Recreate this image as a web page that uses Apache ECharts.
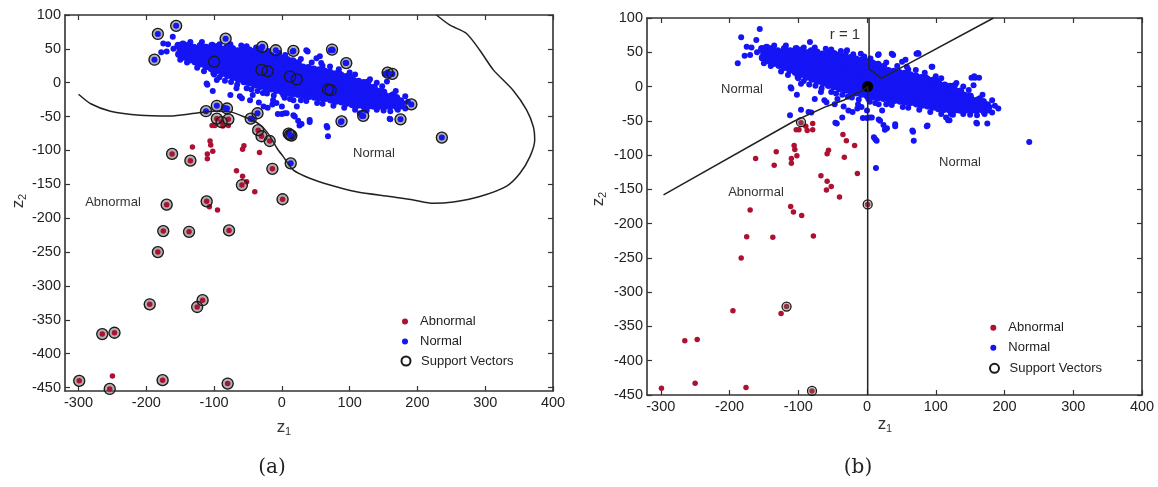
<!DOCTYPE html>
<html>
<head>
<meta charset="utf-8">
<script src="https://cdn.jsdelivr.net/npm/echarts@6/dist/echarts.min.js"></script>
<style>
html,body{margin:0;padding:0;background:#fff;}
#main{width:1158px;height:487px;}
</style>
</head>
<body>
<div id="main"></div>
<script>
// tick labels
var xTicks = [-300, -200, -100, 0, 100, 200, 300, 400];
var yTicks = [-450, -400, -350, -300, -250, -200, -150, -100, -50, 0, 50, 100];

// abnormal samples (z1, z2)
var abnormal = [
    [-96,-53],[-79,-54],[-89,-58],[-103,-63],[-99,-63],[-79,-63],[-87,-64],
    [-106,-86],[-105,-92],[-132,-95],[-56,-93],[-58,-98],[-102,-101],[-110,-105],[-110,-112],
    [-162,-105],[-135,-115],[-35,-70],[-30,-79],[-18,-86],[-33,-103],[-14,-127],
    [-67,-130],[-58,-138],[-52,-146],[-59,-151],[-40,-161],[1,-172],
    [-111,-175],[-107,-183],[-95,-188],[-170,-180],
    [-175,-219],[-137,-220],[-78,-218],[-183,-250],
    [-195,-327],[-117,-321],[-125,-331],
    [-265,-371],[-247,-369],[-250,-433],[-299,-440],[-254,-452],[-176,-439],[-80,-444]
];

// normal samples, dense part
var normalCore = [
    [-152,42],[-150,49],[-153,55],
    [-144,38],[-145,45],[-143,52],[-146,57],
    [-136,34],[-137,41],[-135,48],[-138,55],
    [-128,31],[-129,38],[-127,45],[-130,52],
    [-120,28],[-121,35],[-119,42],[-122,49],[-120,55],
    [-112,24],[-113,31],[-111,38],[-114,45],[-112,52],
    [-104,21],[-105,28],[-103,35],[-106,42],[-104,49],[-103,55],
    [-96,18],[-97,25],[-95,32],[-98,39],[-96,46],[-95,53],
    [-88,14],[-89,21],[-87,28],[-90,35],[-88,42],[-87,49],
    [-80,11],[-81,18],[-79,25],[-82,32],[-80,39],[-79,46],[-81,52],
    [-72,8],[-73,15],[-71,22],[-74,29],[-72,36],[-71,43],[-73,50],
    [-64,5],[-65,12],[-63,19],[-66,26],[-64,33],[-63,40],[-65,47],
    [-56,2],[-57,9],[-55,16],[-58,23],[-56,30],[-55,37],[-57,44],[-56,49],
    [-48,0],[-49,7],[-47,14],[-50,21],[-48,28],[-47,35],[-49,42],[-48,48],
    [-40,-3],[-41,4],[-39,11],[-42,18],[-40,25],[-39,32],[-41,39],[-40,46],
    [-32,-5],[-33,2],[-31,9],[-34,16],[-32,23],[-31,30],[-33,37],[-32,44],
    [-24,-7],[-25,0],[-23,7],[-26,14],[-24,21],[-23,28],[-25,35],[-24,42],
    [-16,-9],[-17,-2],[-15,5],[-18,12],[-16,19],[-15,26],[-17,33],[-16,40],
    [-8,-11],[-9,-4],[-7,3],[-10,10],[-8,17],[-7,24],[-9,31],[-8,38],
    [0,-13],[-1,-6],[1,1],[-2,8],[0,15],[1,22],[-1,29],[0,36],
    [8,-15],[7,-8],[9,-1],[6,6],[8,13],[9,20],[7,27],[8,34],
    [16,-16],[15,-9],[17,-2],[14,5],[16,12],[17,19],[15,26],[16,32],
    [24,-17],[23,-10],[25,-3],[22,4],[24,11],[25,18],[23,25],[24,29],
    [32,-19],[31,-12],[33,-5],[30,2],[32,9],[33,16],[31,23],
    [40,-20],[39,-13],[41,-6],[38,1],[40,8],[41,15],[39,22],
    [48,-21],[47,-14],[49,-7],[46,0],[48,7],[49,14],[47,20],
    [56,-22],[55,-15],[57,-8],[54,-1],[56,6],[57,13],[55,19],
    [64,-23],[63,-16],[65,-9],[62,-2],[64,5],[65,12],[63,17],
    [72,-25],[71,-18],[73,-11],[70,-4],[72,3],[73,10],[71,15],
    [80,-27],[79,-20],[81,-13],[78,-6],[80,1],[81,8],[79,13],
    [88,-28],[87,-21],[89,-14],[86,-7],[88,0],[89,7],[87,11],
    [96,-30],[95,-23],[97,-16],[94,-9],[96,-2],[97,5],[95,9],
    [104,-32],[103,-25],[105,-18],[102,-11],[104,-4],[105,3],[103,7],
    [112,-33],[111,-26],[113,-19],[110,-12],[112,-5],[113,2],
    [120,-34],[119,-27],[121,-20],[118,-13],[120,-6],[121,0],
    [128,-34],[127,-27],[129,-20],[126,-13],[128,-6],
    [136,-34],[135,-27],[137,-20],[134,-13],[136,-7],
    [144,-34],[143,-27],[145,-20],[142,-13],
    [152,-34],[151,-27],[153,-20],[150,-14],
    [160,-34],[159,-27],[161,-20],
    [168,-34],[167,-27],[169,-22],
    [176,-33],[175,-27]
];

// normal samples, sparse part
var normalScatter = [
    [-183,72],[-156,84],[-188,34],[-161,68],[-175,58],[-168,57],[-160,50],[-170,46],[-178,45],
    [-150,34],[-143,48],[-141,53],[-83,65],[-60,55],[-30,51],[-29,53],[-9,48],[16,46],[17,47],
    [36,48],[38,46],[51,36],[56,39],[72,48],[74,49],[75,48],[94,29],[95,29],[58,29],[71,24],[85,14],
    [112,-3],[113,-4],[127,2],[128,2],[152,13],[157,13],[163,13],[156,15],[155,2],[162,-19],
    [144,-21],[164,-17],[156,-35],[171,-40],[176,-35],[191,-32],[178,-30],[159,-53],[134,-35],
    [115,-45],[122,-40],[120,-49],[118,-49],[100,-30],[88,-57],[87,-58],[175,-54],[160,-54],[160,-42],
    [66,-64],[68,-79],[67,-66],[41,-55],[41,-58],[26,-63],[24,-56],[29,-61],[7,-45],[17,-48],
    [2,-18],[0,-35],[236,-81],[12,-77],[10,-74],[14,-79],[13,-119],
    [-112,-42],[-96,-34],[-81,-38],[-85,-37],[-46,-53],[-36,-45],[-44,-54],
    [-111,-1],[-110,-3],[-102,-12],[-96,4],[-101,14],[-67,-8],[-76,-18],[-62,-20],[-59,-23],
    [-47,-26],[-43,-18],[-34,-29],[-22,-16],[-27,-35],[-21,-37],[-14,-32],[-13,-26],[-8,-30],
    [-6,-46],[0,-46],[4,-45],[17,-26],[22,-35],[19,-50],
    [-100,31],[-30,19],[-21,17],[12,9],[22,5],[68,-10],[72,-11],
    [-135,60],[-118,60],[-92,57],[-76,57],[-52,54],[-38,52],[-20,47],[-4,44],[5,41],[28,35],
    [44,30],[60,25],[84,20],[100,15],[108,12],[130,5],[140,0],[148,-5],[168,-12],[182,-20],[186,-28],
    [-140,30],[-125,22],[-115,17],[-100,12],[-92,8],[-84,3],[-75,1],[-66,-3],[-52,-8],[-45,-10],
    [-36,-12],[-28,-15],[-12,-19],[4,-22],[12,-24],[28,-26],[36,-27],[52,-30],[60,-31],[76,-34],
    [92,-37],[108,-40],[125,-41],[140,-40],[150,-41],[170,-38],[182,-38]
];

// support vectors, panel (a)
var svA = [
    [-183,72],[-156,84],[-188,34],[-83,65],[-29,53],[-9,48],[17,47],[74,49],[95,29],
    [156,15],[163,13],[68,-10],[72,-11],[191,-32],[88,-57],[120,-49],[175,-54],[236,-81],
    [10,-75],[14,-78],[12,-77],[13,-119],[-100,31],[-30,19],[-21,17],[12,9],[22,5],
    [-112,-42],[-96,-34],[-81,-38],[-46,-53],[-36,-45],
    [-96,-53],[-79,-54],[-89,-58],[-162,-105],[-135,-115],[-35,-70],[-30,-79],[-18,-86],
    [-14,-127],[-59,-151],[1,-172],[-111,-175],[-170,-180],[-175,-219],[-137,-220],[-78,-218],
    [-183,-250],[-195,-327],[-117,-321],[-125,-331],[-265,-371],[-247,-369],[-299,-440],
    [-254,-452],[-176,-439],[-80,-444]
];

// support vectors, panel (b)
var svB = [[-96,-52],[1,-172],[-117,-321],[-80,-444]];
var svCenterB = [[1,0]];

// decision boundaries
var boundaryA = [
    [-300,-17],[-282,-31],[-253,-42],[-209,-48],[-165,-49],[-128,-45],[-99,-42],[-76,-43],
    [-54,-51],[-35,-60],[-21,-74],[-7,-97],[2,-109],[17,-129],[41,-141],[71,-151],[110,-161],
    [159,-168],[194,-173],[223,-178],[253,-176],[292,-168],[331,-153],[351,-134],[366,-109],
    [373,-85],[371,-65],[361,-40],[341,-11],[312,19],[292,48],[272,73],[248,85],[228,100]
];
var boundaryB1 = [[3,100],[3,26],[21,12],[43,24],[184,100]];
var boundaryB2 = [[-296,-158],[-107,-51],[-59,-29],[-34,-20],[-20,-12],[-5,-5],[1,0],[1,-450]];

var chart = echarts.init(document.getElementById('main'));

var FONT = 'Liberation Sans';
var BLUE = '#1414f5';
var RED = '#ad1031';

function frameAxis(grid, pos, min, max, ticks, showLabel) {
    return {
        type: 'value',
        gridIndex: grid,
        position: pos,
        min: min,
        max: max,
        axisLine: {show: true, onZero: false, lineStyle: {color: '#333', width: 1.6}},
        axisTick: {show: true, inside: true, length: 5, customValues: ticks, lineStyle: {color: '#333', width: 1.2}},
        axisLabel: {show: showLabel, customValues: ticks, margin: 4, color: '#222', fontSize: 14.5, fontFamily: FONT},
        splitLine: {show: false}
    };
}

function dots(name, data, xi, color, size) {
    return {
        name: name, type: 'scatter', xAxisIndex: xi, yAxisIndex: xi,
        data: data, symbol: 'circle', symbolSize: size,
        itemStyle: {color: color, opacity: 1},
        silent: true
    };
}

function rings(name, data, xi, size, fill, border, bw) {
    return {
        name: name, type: 'scatter', xAxisIndex: xi, yAxisIndex: xi,
        data: data, symbol: 'circle', symbolSize: size,
        itemStyle: {color: fill, borderColor: border, borderWidth: bw, opacity: 1},
        silent: true
    };
}

function boundary(data, xi, smooth) {
    return {
        type: 'line', xAxisIndex: xi, yAxisIndex: xi,
        data: data, showSymbol: false, symbol: 'none', smooth: smooth,
        lineStyle: {color: '#222', width: 1.5}, silent: true
    };
}

function label(x, y, text, size) {
    return {
        type: 'text', x: x, y: y, silent: true,
        style: {text: text, fill: '#333', font: (size || 13) + 'px "' + FONT + '"', align: 'center', verticalAlign: 'middle'}
    };
}

function sub(x, y, base, idx, rot) {
    return {
        type: 'group', x: x, y: y, rotation: rot, silent: true,
        children: [
            {type: 'text', x: 0, y: 0, style: {text: base, fill: '#333', font: '17px "' + FONT + '"', align: 'center', verticalAlign: 'middle'}},
            {type: 'text', x: 7, y: 5, style: {text: idx, fill: '#333', font: '11px "' + FONT + '"', align: 'center', verticalAlign: 'middle'}}
        ]
    };
}

var legendText = {fontSize: 13, color: '#222', fontFamily: FONT};

option = {
    animation: false,
    backgroundColor: '#fff',
    grid: [
        {left: 65, top: 15, width: 488, height: 376},
        {left: 647, top: 18, width: 495, height: 377}
    ],
    xAxis: [
        frameAxis(0, 'bottom', -320, 400, xTicks, true),
        frameAxis(0, 'top', -320, 400, xTicks, false),
        frameAxis(1, 'bottom', -320, 400, xTicks, true),
        frameAxis(1, 'top', -320, 400, xTicks, false)
    ],
    yAxis: [
        frameAxis(0, 'left', -455, 100, yTicks, true),
        frameAxis(0, 'right', -455, 100, yTicks, false),
        frameAxis(1, 'left', -450, 100, yTicks, true),
        frameAxis(1, 'right', -450, 100, yTicks, false)
    ],
    legend: [
        {orient: 'vertical', left: 402, top: 315, padding: 0, itemWidth: 6, itemHeight: 6, itemGap: 7, selectedMode: false,
            data: [{name: 'Abnormal', icon: 'circle'}, {name: 'Normal', icon: 'circle'}],
            textStyle: Object.assign({padding: [0, 0, 0, 7]}, legendText)},
        {orient: 'vertical', left: 400.5, top: 354.5, padding: 0, itemWidth: 9, itemHeight: 9, selectedMode: false,
            data: [{name: 'Support Vectors', icon: 'circle'}],
            textStyle: Object.assign({padding: [0, 0, 0, 5.5]}, legendText)},
        {orient: 'vertical', left: 990.3, top: 321.2, padding: 0, itemWidth: 6, itemHeight: 6, itemGap: 7, selectedMode: false,
            data: [{name: 'Abnormal', icon: 'circle'}, {name: 'Normal', icon: 'circle'}],
            textStyle: Object.assign({padding: [0, 0, 0, 7]}, legendText)},
        {orient: 'vertical', left: 989, top: 361.8, padding: 0, itemWidth: 9, itemHeight: 9, selectedMode: false,
            data: [{name: 'Support Vectors', icon: 'circle'}],
            textStyle: Object.assign({padding: [0, 0, 0, 5.5]}, legendText)}
    ],
    series: [
        // (a)
        rings('', svA, 0, 12, 'rgba(110,110,110,0.55)', 'rgba(0,0,0,0)', 0),
        dots('Normal', normalScatter, 0, BLUE, 6),
        dots('Normal', normalCore, 0, BLUE, 7.5),
        dots('Abnormal', abnormal, 0, RED, 5.5),
        rings('Support Vectors', svA, 0, 11, 'rgba(0,0,0,0)', '#1a1a1a', 1.3),
        boundary(boundaryA, 0, 0.25),
        // (b)
        dots('Normal', normalScatter, 2, BLUE, 6),
        dots('Normal', normalCore, 2, BLUE, 7.5),
        dots('Abnormal', abnormal, 2, RED, 5.5),
        rings('', svB, 2, 9, 'rgba(110,110,110,0.35)', '#1a1a1a', 1.3),
        rings('', svCenterB, 2, 11, '#000', '#000', 0),
        boundary(boundaryB1, 2, false),
        boundary(boundaryB2, 2, false)
    ],
    graphic: [
        label(113, 202, 'Abnormal'),
        label(374, 153, 'Normal'),
        label(742, 89, 'Normal'),
        label(756, 192, 'Abnormal'),
        label(960, 162, 'Normal'),
        label(845, 35, 'r = 1', 15),
        sub(281, 427, 'z', '1', 0),
        sub(882, 424, 'z', '1', 0),
        sub(18, 204, 'z', '2', Math.PI / 2),
        sub(598, 202, 'z', '2', Math.PI / 2),
        {type: 'text', x: 272, y: 468, silent: true,
            style: {text: '(a)', fill: '#222', font: '20px "DejaVu Serif"', align: 'center', verticalAlign: 'middle'}},
        {type: 'text', x: 858, y: 468, silent: true,
            style: {text: '(b)', fill: '#222', font: '20px "DejaVu Serif"', align: 'center', verticalAlign: 'middle'}}
    ]
};

chart.setOption(option);
</script>
</body>
</html>
